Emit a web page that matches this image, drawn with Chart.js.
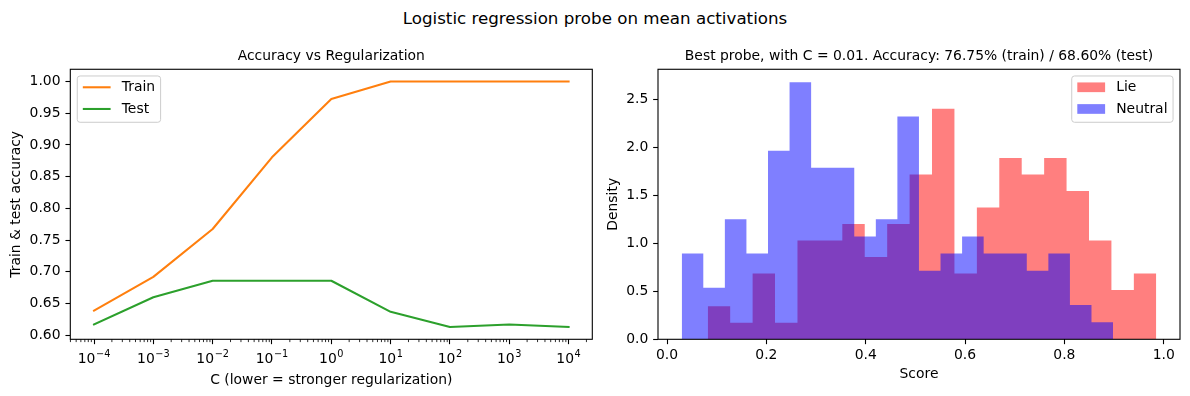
<!DOCTYPE html>
<html><head><meta charset="utf-8">
<script src="https://cdn.jsdelivr.net/npm/chart.js@4/dist/chart.umd.min.js"></script>
<style>
html,body{margin:0;padding:0;background:#fff;}
#wrap{position:relative;width:1190px;height:396px;overflow:hidden;font-family:"DejaVu Sans",sans-serif;}
#sup{position:absolute;left:0;top:8px;width:1190px;text-align:center;font-size:16.7px;line-height:20px;color:#000;}
#ca{position:absolute;left:0;top:0;}
#cb{position:absolute;left:600px;top:0;}
</style></head><body>
<div id="wrap">
<div id="sup">Logistic regression probe on mean activations</div>
<canvas id="ca" width="600" height="396"></canvas>
<canvas id="cb" width="590" height="396"></canvas>
</div>
<script>
// ---------- data: left panel ----------
const cValues = [1e-4, 1e-3, 1e-2, 1e-1, 1, 10, 100, 1000, 10000];
const trainAcc = [0.639, 0.692, 0.7675, 0.8805, 0.9725, 1.0, 1.0, 1.0, 1.0];
const testAcc  = [0.617, 0.660, 0.686, 0.686, 0.686, 0.637, 0.613, 0.617, 0.613];
const cTickValues = [1e-4, 1e-3, 1e-2, 1e-1, 1, 10, 100, 1000, 10000];
const cTickBase = '10';
const cTickExps = ['\u22124', '\u22123', '\u22122', '\u22121', '0', '1', '2', '3', '4'];
const accTickValues = [0.60, 0.65, 0.70, 0.75, 0.80, 0.85, 0.90, 0.95, 1.00];

// ---------- data: right panel (density histograms, 20 bins each) ----------
const lieRange = [0.082, 0.985];
const lieDensity = [0.344, 0.172, 0.688, 0.172, 1.032, 1.032, 1.204, 0.860, 1.204, 1.720,
                    2.408, 0.688, 1.376, 1.892, 1.720, 1.892, 1.548, 1.032, 0.516, 0.688];
const neutralRange = [0.0296, 0.898];
const neutralDensity = [0.895, 0.537, 1.253, 0.895, 1.969, 2.685, 1.790, 1.790, 1.074, 1.253,
                        2.327, 0.716, 0.895, 1.074, 0.895, 0.895, 0.716, 0.895, 0.358, 0.179];
const scoreTickValues = [0.0, 0.2, 0.4, 0.6, 0.8, 1.0];
const densityTickValues = [0.0, 0.5, 1.0, 1.5, 2.0, 2.5];

// ---------- helpers ----------
const FAMILY = '"DejaVu Sans", sans-serif';
const FS = 13.9;
Chart.defaults.font.family = FAMILY;
Chart.defaults.font.size = FS;
Chart.defaults.color = '#000';

function stepPoints(range, dens) {
  const w = (range[1] - range[0]) / dens.length;
  const pts = dens.map((d, i) => ({x: range[0] + i * w, y: d}));
  pts.push({x: range[1], y: 0});
  return pts;
}
function roundRect(ctx, x, y, w, h, r) {
  ctx.beginPath();
  ctx.moveTo(x + r, y);
  ctx.lineTo(x + w - r, y); ctx.quadraticCurveTo(x + w, y, x + w, y + r);
  ctx.lineTo(x + w, y + h - r); ctx.quadraticCurveTo(x + w, y + h, x + w - r, y + h);
  ctx.lineTo(x + r, y + h); ctx.quadraticCurveTo(x, y + h, x, y + h - r);
  ctx.lineTo(x, y + r); ctx.quadraticCurveTo(x, y, x + r, y);
  ctx.closePath();
}
function mplPlugin(cfg) {
  return {
    id: 'mpl',
    afterDraw(chart) {
      const ctx = chart.ctx, a = chart.chartArea;
      ctx.save();
      const xs = chart.scales.x;
      if (cfg.minor) {
        ctx.strokeStyle = '#000'; ctx.lineWidth = 0.83;
        cfg.minor.forEach(v => {
          const px = xs.getPixelForValue(v);
          if (px < a.left - 0.5 || px > a.right + 0.5) return;
          ctx.beginPath(); ctx.moveTo(px, a.bottom); ctx.lineTo(px, a.bottom + 2.8); ctx.stroke();
        });
      }
      if (cfg.powerLabels) {
        // tick labels of the form base^exponent (mathtext-like)
        const y0 = a.bottom + 23.2;
        ctx.fillStyle = '#000'; ctx.textBaseline = 'alphabetic'; ctx.textAlign = 'left';
        cfg.powerLabels.values.forEach((v, i) => {
          const px = xs.getPixelForValue(v);
          ctx.font = FS + 'px ' + FAMILY;
          const w1 = ctx.measureText(cfg.powerLabels.base).width;
          ctx.font = (FS * 0.7) + 'px ' + FAMILY;
          const w2 = ctx.measureText(cfg.powerLabels.exps[i]).width;
          const x0 = px - (w1 + w2 + 0.6) / 2;
          ctx.font = FS + 'px ' + FAMILY;
          ctx.fillText(cfg.powerLabels.base, x0, y0);
          ctx.font = (FS * 0.7) + 'px ' + FAMILY;
          ctx.fillText(cfg.powerLabels.exps[i], x0 + w1 + 0.6, y0 - 5.4);
        });
      }
      ctx.strokeStyle = '#000'; ctx.lineWidth = 1.1;
      ctx.strokeRect(a.left, a.top, a.width, a.height);
      // legend
      ctx.font = FS + 'px ' + FAMILY;
      const items = chart.data.datasets.map(ds => ({label: ds.label, color: ds.legendColor}));
      const tw = Math.max(...items.map(it => ctx.measureText(it.label).width));
      const pad = 0.4 * FS, hl = 2.0 * FS, htp = 0.8 * FS;
      const w = pad + hl + htp + tw + pad, h = 46.3;
      const x = cfg.side === 'left' ? a.left + 0.5 * FS : a.right - 0.5 * FS - w;
      const y = a.top + 6.7;
      roundRect(ctx, x, y, w, h, 2.8);
      ctx.fillStyle = 'rgba(255,255,255,0.8)'; ctx.fill();
      ctx.strokeStyle = '#cccccc'; ctx.lineWidth = 1; ctx.stroke();
      items.forEach((it, i) => {
        const cy = y + 11.3 + i * 21.7;
        if (cfg.kind === 'line') {
          ctx.strokeStyle = it.color; ctx.lineWidth = 2.08;
          ctx.beginPath(); ctx.moveTo(x + pad, cy); ctx.lineTo(x + pad + hl, cy); ctx.stroke();
        } else {
          ctx.fillStyle = it.color; ctx.fillRect(x + pad, cy - 4.85, hl, 9.7);
        }
        ctx.fillStyle = '#000'; ctx.textBaseline = 'middle'; ctx.textAlign = 'left';
        ctx.fillText(it.label, x + pad + hl + htp, cy);
      });
      ctx.restore();
    }
  };
}

// ---------- left panel ----------
const logMin = Math.log10(Math.min(...cValues)), logMax = Math.log10(Math.max(...cValues));
const logPad = 0.05 * (logMax - logMin);
const xMinA = Math.pow(10, logMin - logPad), xMaxA = Math.pow(10, logMax + logPad);
const minorTicks = [];
for (let e = Math.floor(logMin - logPad); e <= Math.ceil(logMax + logPad); e++) {
  for (let m = 2; m <= 9; m++) { const v = m * Math.pow(10, e); if (v >= xMinA && v <= xMaxA) minorTicks.push(v); }
}
const allAcc = trainAcc.concat(testAcc);
const accLo = Math.min(...allAcc), accHi = Math.max(...allAcc), accPad = 0.05 * (accHi - accLo);

new Chart(document.getElementById('ca'), {
  type: 'line',
  data: {
    datasets: [
      {label: 'Train', data: cValues.map((c, i) => ({x: c, y: trainAcc[i]})), borderColor: '#ff7f0e', legendColor: '#ff7f0e',
       borderWidth: 2.08, pointRadius: 0, tension: 0, borderJoinStyle: 'round', borderCapStyle: 'square', fill: false},
      {label: 'Test', data: cValues.map((c, i) => ({x: c, y: testAcc[i]})), borderColor: '#2ca02c', legendColor: '#2ca02c',
       borderWidth: 2.08, pointRadius: 0, tension: 0, borderJoinStyle: 'round', borderCapStyle: 'square', fill: false}
    ]
  },
  options: {
    responsive: false, animation: false, devicePixelRatio: 1,
    layout: {padding: {left: 0, right: 7.7, top: 0, bottom: 0}},
    plugins: {
      legend: {display: false}, tooltip: {enabled: false},
      title: {display: true, text: 'Accuracy vs Regularization', fullSize: false, color: '#000',
              font: {family: FAMILY, size: FS, weight: 'normal', lineHeight: 1.2}, padding: {top: 48.5, bottom: 4.1}}
    },
    scales: {
      x: {
        type: 'logarithmic', min: xMinA, max: xMaxA,
        afterBuildTicks: s => { s.ticks = cTickValues.map(v => ({value: v})); },
        afterFit: s => { s.height = 56.7; s.paddingLeft = 0; s.paddingRight = 0; },
        ticks: {autoSkip: false, maxRotation: 0, minRotation: 0, padding: 2.5, color: '#000',
                font: {family: FAMILY, size: FS}, callback: () => ''},
        grid: {drawOnChartArea: false, drawTicks: true, tickLength: 4.86, tickWidth: 1.1, tickColor: '#000'},
        border: {display: false},
        title: {display: true, text: 'C (lower = stronger regularization)', color: '#000',
                font: {family: FAMILY, size: FS}, padding: {top: 0, bottom: 7.7}}
      },
      y: {
        type: 'linear', min: accLo - accPad, max: accHi + accPad,
        afterBuildTicks: s => { s.ticks = accTickValues.map(v => ({value: v})); },
        afterFit: s => { s.width = 70.3; },
        ticks: {padding: 4.9, color: '#000', font: {family: FAMILY, size: FS}, callback: v => Number(v).toFixed(2)},
        grid: {drawOnChartArea: false, drawTicks: true, tickLength: 4.86, tickWidth: 1.1, tickColor: '#000'},
        border: {display: false},
        title: {display: true, text: 'Train & test accuracy', color: '#000',
                font: {family: FAMILY, size: FS}, padding: {top: 8.2, bottom: 0}}
      }
    }
  },
  plugins: [mplPlugin({side: 'left', kind: 'line', minor: minorTicks,
                       powerLabels: {values: cTickValues, base: cTickBase, exps: cTickExps}})]
});

// ---------- right panel ----------
const sLo = Math.min(lieRange[0], neutralRange[0]), sHi = Math.max(lieRange[1], neutralRange[1]);
const sPad = 0.05 * (sHi - sLo);
const dHi = 1.05 * Math.max(...lieDensity, ...neutralDensity);

new Chart(document.getElementById('cb'), {
  type: 'line',
  data: {
    datasets: [
      {label: 'Lie', data: stepPoints(lieRange, lieDensity), order: 1, stepped: 'before',
       backgroundColor: 'rgba(255,0,0,0.5)', legendColor: 'rgba(255,0,0,0.5)', borderColor: 'rgba(0,0,0,0)', borderWidth: 0,
       pointRadius: 0, fill: 'origin'},
      {label: 'Neutral', data: stepPoints(neutralRange, neutralDensity), order: 0, stepped: 'before',
       backgroundColor: 'rgba(0,0,255,0.5)', legendColor: 'rgba(0,0,255,0.5)', borderColor: 'rgba(0,0,0,0)', borderWidth: 0,
       pointRadius: 0, fill: 'origin'}
    ]
  },
  options: {
    responsive: false, animation: false, devicePixelRatio: 1,
    layout: {padding: {left: 0, right: 10, top: 0, bottom: 0}},
    plugins: {
      legend: {display: false}, tooltip: {enabled: false}, filler: {propagate: false},
      title: {display: true, text: 'Best probe, with C = 0.01. Accuracy: 76.75% (train) / 68.60% (test)', fullSize: false, color: '#000',
              font: {family: FAMILY, size: FS, weight: 'normal', lineHeight: 1.2}, padding: {top: 48.5, bottom: 4.1}}
    },
    scales: {
      x: {
        type: 'linear', min: sLo - sPad, max: sHi + sPad,
        afterBuildTicks: s => { s.ticks = scoreTickValues.map(v => ({value: v})); },
        afterFit: s => { s.height = 56.7; s.paddingLeft = 0; s.paddingRight = 0; },
        ticks: {autoSkip: false, maxRotation: 0, minRotation: 0, padding: 2.5, color: '#000',
                font: {family: FAMILY, size: FS}, callback: v => Number(v).toFixed(1)},
        grid: {drawOnChartArea: false, drawTicks: true, tickLength: 4.86, tickWidth: 1.1, tickColor: '#000'},
        border: {display: false},
        title: {display: true, text: 'Score', color: '#000',
                font: {family: FAMILY, size: FS}, padding: {top: 0, bottom: 13.7}}
      },
      y: {
        type: 'linear', min: 0, max: dHi,
        afterBuildTicks: s => { s.ticks = densityTickValues.map(v => ({value: v})); },
        afterFit: s => { s.width = 58; },
        ticks: {padding: 4.9, color: '#000', font: {family: FAMILY, size: FS}, callback: v => Number(v).toFixed(1)},
        grid: {drawOnChartArea: false, drawTicks: true, tickLength: 4.86, tickWidth: 1.1, tickColor: '#000'},
        border: {display: false},
        title: {display: true, text: 'Density', color: '#000',
                font: {family: FAMILY, size: FS}, padding: {top: 5.5, bottom: 0}}
      }
    }
  },
  plugins: [mplPlugin({side: 'right', kind: 'patch'})]
});
</script>
</body></html>
